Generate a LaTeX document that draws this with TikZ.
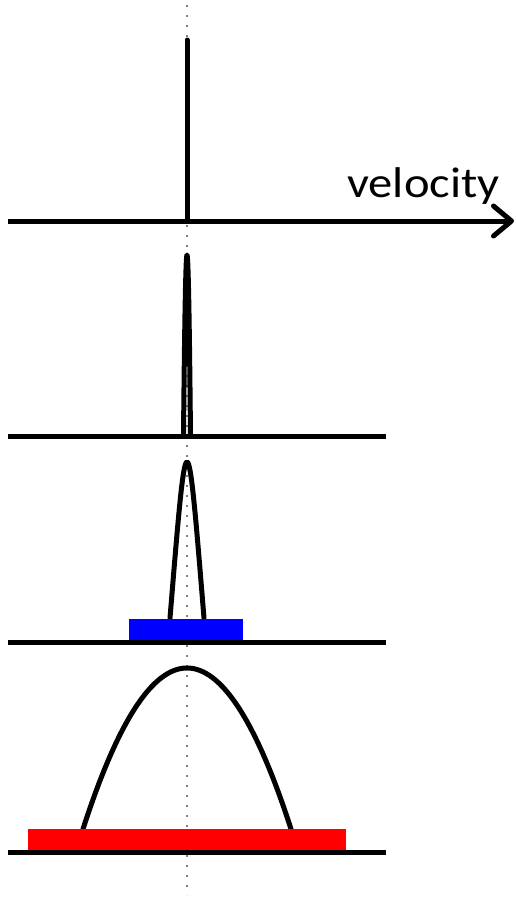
\documentclass[tikz,border=0pt]{standalone}
\usepackage{fontspec}
\setmainfont{Carlito}
\usetikzlibrary{arrows.meta,positioning,calc}
\definecolor{guidegray}{HTML}{808080}
\definecolor{boxblue}{HTML}{0000FF}
\definecolor{boxred}{HTML}{FF0000}

\begin{document}
\begin{tikzpicture}[x=1pt,y=-1pt,
  axisline/.style={line width=5pt},
  curve/.style={line width=5pt,line cap=round,line join=round},
  guide/.style={guidegray,line width=2pt,dash pattern=on 2pt off 8pt}]
\useasboundingbox (0,0) rectangle (517,898);
% centre guide
\draw[guide] (187,5) -- (187,895);
% panel 1: spike
\draw[axisline,-{Straight Barb[length=18pt,width=30pt,round]}] (8,221) -- (514,221);
\draw[curve] (187,221) -- (187,40);
\node[anchor=base west,inner sep=0pt,font=\fontsize{43}{50}\selectfont] (vel) at (347,197) {\scalebox{1.13}[1]{velocity}};
% panel 2: narrow peak
\draw[curve] (183.5,436) .. controls (185.8,194.7) and (188.2,194.7) .. (190.5,436);
\draw[axisline] (8,436) -- (386,436);
% panel 3: wider peak, blue band
\draw[curve] (170,618) .. controls (187,410) and (187,410) .. (204,618);
\fill[boxblue] (129,619) rectangle (243,642);
\draw[axisline] (8,642) -- (386,642);
% panel 4: broad peak, red band
\draw[curve] (83,829) .. controls (152.3,614.3) and (221.7,614.3) .. (291,829);
\fill[boxred] (28,829) rectangle (346,852);
\draw[axisline] (8,852) -- (386,852);
\end{tikzpicture}
\end{document}
